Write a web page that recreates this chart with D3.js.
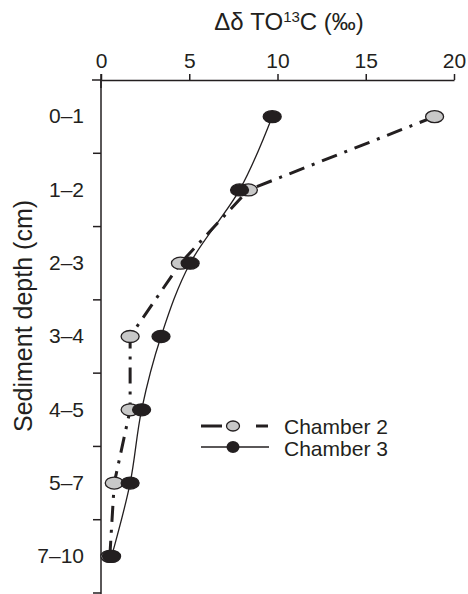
<!DOCTYPE html>
<html>
<head>
<meta charset="utf-8">
<script src="https://cdn.jsdelivr.net/npm/d3@7"></script>
<style>
  body { margin: 0; background: #fff; }
  text { font-family: "Liberation Sans", Arial, sans-serif; fill: #231f20; }
</style>
</head>
<body>
<script>
var w = 468;
var h = 594;

var depths = ["0–1", "1–2", "2–3", "3–4", "4–5", "5–7", "7–10"];
var chamber2 = [18.9, 8.35, 4.5, 1.65, 1.65, 0.75, 0.5];
var chamber3 = [9.7, 7.85, 5.05, 3.4, 2.3, 1.65, 0.6];
var xTicks = [0, 5, 10, 15, 20];
var seriesNames = ["Chamber 2", "Chamber 3"];

var ink = "#231f20";

var svg = d3.select("body")
            .append("svg")
            .attr("width", w)
            .attr("height", h);

var x = d3.scaleLinear().domain([0, 20]).range([101, 454]);
var y = d3.scaleBand().domain(depths).range([80, 593]).padding(0);
var yc = function(d){ return y(d) + y.bandwidth() / 2; };

// top axis
var xAxis = svg.append("g")
               .attr("transform", "translate(0,80)")
               .call(d3.axisTop(x).tickValues(xTicks).tickSize(6).tickSizeOuter(0).tickPadding(6));
xAxis.selectAll("text").style("font-size", "21px").attr("fill", ink);
xAxis.selectAll("line,path").attr("stroke", ink).attr("stroke-width", 1.5);
svg.append("line") //axis sticks out a bit left of zero
   .attr("x1", 92).attr("x2", x(0))
   .attr("y1", 80).attr("y2", 80)
   .attr("stroke", ink).attr("stroke-width", 1.5);
svg.append("line") //little cross at zero
   .attr("x1", x(0)).attr("x2", x(0))
   .attr("y1", 74).attr("y2", 88)
   .attr("stroke", ink).attr("stroke-width", 1.5);

// left axis: labels at band centres, ticks between bands
var yAxis = svg.append("g")
               .attr("transform", "translate(" + x(0) + ",0)")
               .call(d3.axisLeft(y).tickSize(0).tickPadding(17));
yAxis.select("path").attr("stroke", ink).attr("stroke-width", 1.5)
     .attr("d", "M0,80V594");
yAxis.selectAll("text").style("font-size", "21px").attr("fill", ink);

svg.selectAll("line.ytick")
   .data(depths)
   .enter()
   .append("line")
   .attr("class", "ytick")
   .attr("x1", x(0) - 8).attr("x2", x(0))
   .attr("y1", function(d){ return y(d) + y.bandwidth(); })
   .attr("y2", function(d){ return y(d) + y.bandwidth(); })
   .attr("stroke", ink).attr("stroke-width", 1.5);

// titles
var title = svg.append("text")
   .attr("x", 289).attr("y", 30)
   .attr("text-anchor", "middle")
   .style("font-size", "24px");
title.append("tspan").text("Δδ TO");
title.append("tspan").attr("dy", -8).style("font-size", "15px").text("13");
title.append("tspan").attr("dy", 8).text("C (‰)");

svg.append("text")
   .attr("transform", "translate(32,316) rotate(-90)")
   .attr("text-anchor", "middle")
   .style("font-size", "25px")
   .text("Sediment depth (cm)");

// lines
var line2 = d3.line()
              .x(function(d){ return x(d[1]); })
              .y(function(d){ return yc(d[0]); });
var line3 = d3.line()
              .x(function(d){ return x(d[1]); })
              .y(function(d){ return yc(d[0]); })
              .curve(d3.curveMonotoneY);

svg.append("path")
   .attr("d", line2(d3.zip(depths, chamber2)))
   .attr("fill", "none")
   .attr("stroke", ink)
   .attr("stroke-width", 3)
   .attr("stroke-dasharray", "16,8,3,8");

svg.append("path")
   .attr("d", line3(d3.zip(depths, chamber3)))
   .attr("fill", "none")
   .attr("stroke", ink)
   .attr("stroke-width", 1.3);

// markers, chamber 3 drawn on top
svg.selectAll("ellipse.c2")
   .data(d3.zip(depths, chamber2))
   .enter()
   .append("ellipse")
   .attr("class", "c2")
   .attr("cx", function(d){ return x(d[1]); })
   .attr("cy", function(d){ return yc(d[0]); })
   .attr("rx", 9).attr("ry", 6)
   .attr("fill", "#c8c8c8")
   .attr("stroke", ink).attr("stroke-width", 1.3);

svg.selectAll("ellipse.c3")
   .data(d3.zip(depths, chamber3))
   .enter()
   .append("ellipse")
   .attr("class", "c3")
   .attr("cx", function(d){ return x(d[1]); })
   .attr("cy", function(d){ return yc(d[0]); })
   .attr("rx", 9).attr("ry", 6)
   .attr("fill", ink)
   .attr("stroke", ink).attr("stroke-width", 1.3);

// legend
var lg = svg.append("g");
lg.append("line").attr("x1", 201).attr("x2", 222).attr("y1", 426).attr("y2", 426)
  .attr("stroke", ink).attr("stroke-width", 3);
lg.append("line").attr("x1", 256).attr("x2", 268).attr("y1", 426).attr("y2", 426)
  .attr("stroke", ink).attr("stroke-width", 3);
lg.append("ellipse").attr("cx", 233).attr("cy", 426).attr("rx", 6.5).attr("ry", 5)
  .attr("fill", "#c8c8c8").attr("stroke", ink).attr("stroke-width", 1.3);
lg.append("line").attr("x1", 201).attr("x2", 269).attr("y1", 447).attr("y2", 447)
  .attr("stroke", ink).attr("stroke-width", 1.5);
lg.append("ellipse").attr("cx", 233).attr("cy", 447).attr("rx", 6.5).attr("ry", 6)
  .attr("fill", ink);
lg.selectAll("text")
  .data(seriesNames)
  .enter()
  .append("text")
  .attr("x", 284)
  .attr("y", function(d, i){ return 434 + i * 22; })
  .style("font-size", "21px")
  .text(function(d){ return d; });
</script>
</body>
</html>
